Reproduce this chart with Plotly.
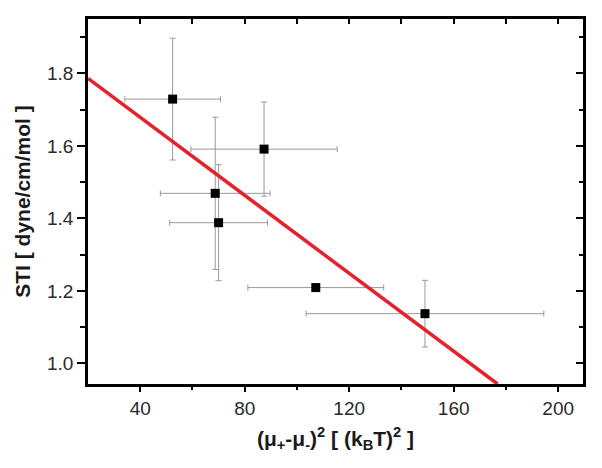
import plotly.graph_objects as go

# measured points with x / y uncertainties
mu_sq = [52.4, 87.4, 68.7, 70.0, 107.2, 149.0]
sti = [1.729, 1.591, 1.469, 1.388, 1.209, 1.137]
mu_sq_err = [18.3, 28.0, 21.0, 18.7, 26.0, 45.5]
sti_err = [0.168, 0.13, 0.21, 0.16, 0.0, 0.092]

# linear fit, endpoints
fit_x = [20.0, 176.8]
fit_y = [1.786, 0.943]

x_range = [20, 209.5]
y_range = [0.943, 1.95]

font_family = "Liberation Sans, Arial, sans-serif"

fig = go.Figure()

fig.add_trace(go.Scatter(
    x=mu_sq, y=sti, mode="markers",
    marker=dict(symbol="square", size=9, color="black"),
    error_x=dict(type="data", array=mu_sq_err, color="#9a9a9a", thickness=1, width=3),
    error_y=dict(type="data", array=sti_err, color="#9a9a9a", thickness=1, width=3),
    showlegend=False,
))

fig.add_trace(go.Scatter(
    x=fit_x, y=fit_y, mode="lines",
    line=dict(color="#e3222b", width=3.5),
    showlegend=False,
))

# dummy trace so the mirrored (top/right) axes get drawn
fig.add_trace(go.Scatter(
    x=[x_range[0]], y=[y_range[0]], xaxis="x2", yaxis="y2",
    mode="markers", marker=dict(opacity=0), showlegend=False, hoverinfo="skip",
))

axis_common = dict(
    showgrid=False, zeroline=False, showline=True, automargin=False,
    linecolor="black", linewidth=2.5,
    tickcolor="black", tickwidth=2,
)

# the page body adds an 8px offset, so the figure is 8px smaller than the window
fig.update_layout(
    width=594, height=460,
    margin=dict(l=80, r=19, t=11, b=84),
    paper_bgcolor="white", plot_bgcolor="white",
    font=dict(family=font_family, color="#222"),
    xaxis=dict(
        **axis_common,
        range=x_range, tickvals=[40, 80, 120, 160, 200],
        ticks="outside", ticklen=5,
        minor=dict(tickvals=[60, 100, 140, 180], ticks="outside", ticklen=3, tickcolor="black", tickwidth=2),
        tickfont=dict(size=19, color="#2a2a2a"),
        title=dict(
            text="<b>(μ<sub>+</sub>-μ<sub>-</sub>)<sup>2</sup> [ (k<sub>B</sub>T)<sup>2</sup> ]</b>",
            font=dict(size=21, color="#1a1a1a"), standoff=14,
        ),
    ),
    yaxis=dict(
        **axis_common,
        range=y_range, tickvals=[1.0, 1.2, 1.4, 1.6, 1.8],
        tickformat=".1f",
        ticks="outside", ticklen=8,
        minor=dict(tickvals=[1.1, 1.3, 1.5, 1.7, 1.9], ticks="outside", ticklen=5, tickcolor="black", tickwidth=2),
        tickfont=dict(size=19, color="#2a2a2a"),
        title=dict(
            text="<b>STI [ dyne/cm/mol ]</b>",
            font=dict(size=21, color="#1a1a1a"), standoff=11,
        ),
    ),
    xaxis2=dict(
        **axis_common,
        overlaying="x", side="top", matches="x", range=x_range,
        tickvals=[40, 80, 120, 160, 200], showticklabels=False,
        ticks="inside", ticklen=5,
        minor=dict(tickvals=[20, 60, 100, 140, 180], ticks="inside", ticklen=5, tickcolor="black", tickwidth=2),
    ),
    yaxis2=dict(
        **axis_common,
        overlaying="y", side="right", matches="y", range=y_range,
        tickvals=[1.0, 1.2, 1.4, 1.6, 1.8], showticklabels=False,
        ticks="inside", ticklen=7,
        minor=dict(tickvals=[1.1, 1.3, 1.5, 1.7, 1.9], ticks="inside", ticklen=4, tickcolor="black", tickwidth=2),
    ),
)

fig.write_html("out.html")
